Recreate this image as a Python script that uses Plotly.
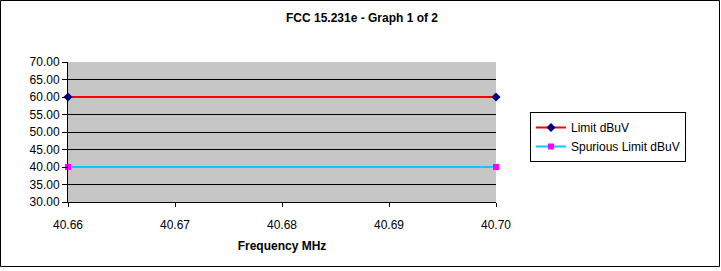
import plotly.graph_objects as go

freq = [40.66, 40.70]
limit_dbuv = [60.0, 60.0]
spurious_dbuv = [40.0, 40.0]
x_ticks = [40.66, 40.67, 40.68, 40.69, 40.70]
y_ticks = [30, 35, 40, 45, 50, 55, 60, 65, 70]

W, H = 721, 271
L, R, T, B = 68, 225, 62, 69
pw, ph = W - L - R, H - T - B

fig = go.Figure()
fig.add_trace(go.Scatter(
    x=freq, y=limit_dbuv, name="Limit dBuV", mode="lines+markers",
    line=dict(color="#ff0000", width=2),
    marker=dict(symbol="diamond", color="#000080", size=7),
    cliponaxis=False))
fig.add_trace(go.Scatter(
    x=freq, y=spurious_dbuv, name="Spurious Limit dBuV", mode="lines+markers",
    line=dict(color="#00ccff", width=2),
    marker=dict(symbol="square", color="#ff00ff", size=6),
    cliponaxis=False))

font = dict(family="Liberation Sans, Arial, sans-serif", color="black", size=12)

fig.update_layout(
    width=W, height=H,
    margin=dict(l=L, r=R, t=T, b=B),
    paper_bgcolor="white", plot_bgcolor="#c6c6c6",
    font=font,
    title=dict(text="<b>FCC 15.231e - Graph 1 of 2</b>", x=362 / W, xanchor="center",
               y=1 - 18 / H, yanchor="middle", font=dict(size=12)),
    xaxis=dict(range=[40.66, 40.70], tickvals=x_ticks,
               ticktext=[f"{v:.2f}" for v in x_ticks],
               ticks="outside", ticklen=4, tickcolor="black",
               ticklabelstandoff=8,
               showline=True, linecolor="black", linewidth=1, mirror=False,
               showgrid=False, zeroline=False, tickfont=dict(size=12),
               title=dict(text="<b>Frequency MHz</b>", standoff=10,
                          font=dict(size=12))),
    yaxis=dict(range=[30, 70], tickvals=y_ticks,
               ticktext=[f"{v:.2f}" for v in y_ticks],
               ticks="outside", ticklen=5, tickcolor="black",
               showline=True, linecolor="black", linewidth=1,
               showgrid=True, gridcolor="black", gridwidth=1, zeroline=False,
               tickfont=dict(size=12)),
    legend=dict(x=(530 - L) / pw, y=(H - B - 112) / ph, xanchor="left", yanchor="top",
                bordercolor="black", borderwidth=1, bgcolor="white",
                font=dict(size=12), itemwidth=30, tracegroupgap=0),
    showlegend=True,
)

fig.add_shape(type="rect", xref="paper", yref="paper",
              x0=(0.5 - L) / pw, x1=(719.5 - L) / pw,
              y0=(H - B - 266.5) / ph, y1=(H - B - 0.5) / ph,
              line=dict(color="black", width=1), fillcolor="rgba(0,0,0,0)", layer="below")

fig.write_html("out.html")
